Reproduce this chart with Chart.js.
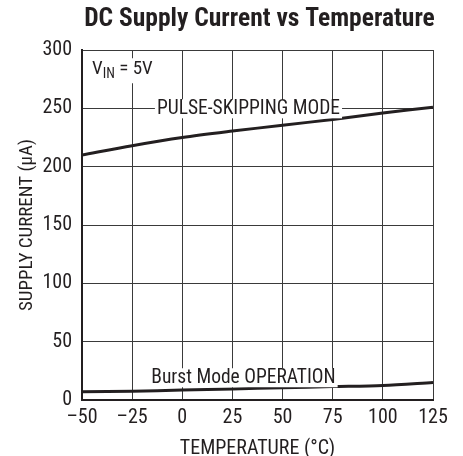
<!DOCTYPE html>
<html lang="en">
<head>
    <meta charset="UTF-8">
    <title>DC Supply Current vs Temperature</title>
    <script src="https://cdn.jsdelivr.net/npm/chart.js"></script>
    <style>
        body { margin: 0; background: #fff; }
        canvas { display: block; }
    </style>
</head>
<body>
    <canvas id="myChart" width="463" height="456"></canvas>
    <script>
        // datos
        const temperatures = [-50, -25, 0, 25, 50, 75, 100, 125];
        const pulseSkipping = [210, 218, 225, 230.5, 235.5, 240.5, 246, 251];
        const burstMode = [7, 7.5, 8.5, 9.5, 10.5, 11.5, 12.5, 15];
        const xTicks = [-50, -25, 0, 25, 50, 75, 100, 125];
        const yTicks = [0, 50, 100, 150, 200, 250, 300];

        const FONT = "'Roboto Condensed', 'Liberation Sans Narrow', sans-serif";
        const INK = '#231f20';

        const toPoints = (vals) => vals.map((v, i) => ({ x: temperatures[i], y: v }));

        // titulo y etiquetas dentro de la grafica
        const labelsPlugin = {
            id: 'labels',
            afterDraw(chart) {
                const { ctx, chartArea, scales } = chart;
                const x = scales.x, y = scales.y;
                const midX = (chartArea.left + chartArea.right) / 2;
                ctx.save();
                ctx.fillStyle = INK;
                ctx.font = 'bold 25.5px ' + FONT;
                ctx.textAlign = 'center';
                ctx.textBaseline = 'alphabetic';
                ctx.fillText('DC Supply Current vs Temperature', midX + 2, 26);

                // titulo del eje x
                ctx.font = '20px ' + FONT;
                ctx.fillText('TEMPERATURE (°C)', midX, 454);

                ctx.font = '19.5px ' + FONT;
                ctx.textBaseline = 'middle';

                // PULSE-SKIPPING MODE sobre la linea de 250
                let txt = 'PULSE-SKIPPING MODE';
                let cx = x.getPixelForValue(33);
                let cy = y.getPixelForValue(250);
                let w = ctx.measureText(txt).width;
                ctx.fillStyle = '#fff';
                ctx.fillRect(cx - w / 2 - 2, cy - 9, w + 4, 19);
                ctx.fillStyle = INK;
                ctx.fillText(txt, cx, cy + 1);

                txt = 'Burst Mode OPERATION';
                cx = x.getPixelForValue(30.5);
                cy = y.getPixelForValue(19.5);
                w = ctx.measureText(txt).width;
                ctx.fillStyle = '#fff';
                ctx.fillRect(cx - w / 2 - 2, cy - 9, w + 4, 19);
                ctx.fillStyle = INK;
                ctx.fillText(txt, cx, cy + 1);

                // V_IN = 5V
                ctx.font = '19px ' + FONT;
                ctx.textAlign = 'left';
                let lx = chartArea.left + 10;
                let ly = y.getPixelForValue(283.5);
                ctx.fillStyle = '#fff';
                ctx.fillRect(lx - 2, ly - 11, 66, 25);
                ctx.fillStyle = INK;
                ctx.fillText('V', lx, ly);
                lx += ctx.measureText('V').width;
                ctx.font = '14px ' + FONT;
                ctx.fillText('IN', lx, ly + 5);
                lx += ctx.measureText('IN').width;
                ctx.font = '19px ' + FONT;
                ctx.fillText(' = 5V', lx, ly);
                ctx.restore();
            }
        };

        new Chart(document.getElementById('myChart').getContext('2d'), {
            type: 'line',
            data: {
                datasets: [{
                    label: 'PULSE-SKIPPING MODE',
                    data: toPoints(pulseSkipping),
                    borderColor: INK,
                    borderWidth: 3,
                    pointRadius: 0,
                    tension: 0.3,
                    fill: false
                }, {
                    label: 'Burst Mode OPERATION',
                    data: toPoints(burstMode),
                    borderColor: INK,
                    borderWidth: 3,
                    pointRadius: 0,
                    tension: 0.3,
                    fill: false
                }]
            },
            options: {
                responsive: false,
                animation: false,
                layout: { padding: { top: 50, right: 30, left: 0, bottom: 0 } },
                plugins: {
                    legend: { display: false },
                    tooltip: { enabled: false },
                    title: { display: false }
                },
                scales: {
                    x: {
                        type: 'linear',
                        min: -50,
                        max: 125,
                        afterBuildTicks: (s) => { s.ticks = xTicks.map(v => ({ value: v })); },
                        afterFit: (s) => { s.height = 56; },
                        ticks: {
                            color: INK,
                            font: { family: FONT, size: 20 },
                            padding: 6,
                            maxRotation: 0,
                            callback: (v) => v < 0 ? '\u2013' + Math.abs(v) : v
                        },
                        grid: { color: '#3a3a3a', lineWidth: 1, drawTicks: false },
                        border: { color: INK, width: 2 },
                        title: { display: false }
                    },
                    y: {
                        min: 0,
                        max: 300,
                        afterBuildTicks: (s) => { s.ticks = yTicks.map(v => ({ value: v })); },
                        afterFit: (s) => { s.width = 82; },
                        ticks: {
                            color: INK,
                            font: { family: FONT, size: 20 },
                            padding: 10
                        },
                        grid: { color: '#3a3a3a', lineWidth: 1, drawTicks: false },
                        border: { color: INK, width: 2 },
                        title: {
                            display: true,
                            text: 'SUPPLY CURRENT (μA)',
                            color: INK,
                            font: { family: FONT, size: 19 },
                            padding: { bottom: 0, top: 16 }
                        }
                    }
                }
            },
            plugins: [labelsPlugin]
        });
    </script>
</body>
</html>
